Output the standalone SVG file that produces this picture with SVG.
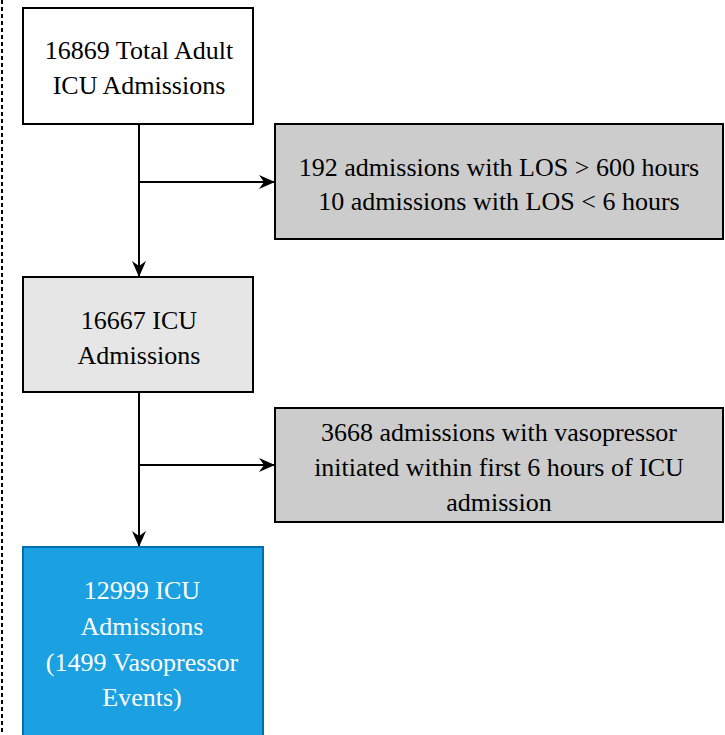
<svg xmlns="http://www.w3.org/2000/svg" width="725" height="735" viewBox="0 0 725 735">
<style>
text{font-family:'Liberation Serif','Times New Roman',serif;font-size:26px;text-anchor:middle;fill:#000}
.w{fill:#fff}
.box{stroke:#000;stroke-width:2}
.conn{stroke:#000;stroke-width:2;fill:none}
</style>
<defs>
<marker id="arr" viewBox="0 0 16 14" refX="15" refY="7" markerWidth="16" markerHeight="14" markerUnits="userSpaceOnUse" orient="auto">
<path d="M0,0 L16,7 L0,14 L5,7 Z" fill="#000"/>
</marker>
</defs>
<rect x="0" y="0" width="725" height="735" fill="#ffffff"/>
<path d="M2,0 V735" stroke="#000" stroke-width="2" stroke-dasharray="4,3" fill="none"/>
<g id="connectors">
<path class="conn" d="M139,124 V276" marker-end="url(#arr)"/>
<path class="conn" d="M139,182 H274" marker-end="url(#arr)"/>
<path class="conn" d="M139,392 V546" marker-end="url(#arr)"/>
<path class="conn" d="M139,465 H274" marker-end="url(#arr)"/>
</g>
<g id="n1">
<rect class="box" x="23" y="8" width="230" height="116" fill="#fff"/>
<text x="139" y="59">16869 Total Adult</text>
<text x="139" y="94">ICU Admissions</text>
</g>
<g id="n2">
<rect class="box" x="275" y="124" width="448" height="115" fill="#ccc"/>
<text x="499" y="176">192 admissions with LOS &gt; 600 hours</text>
<text x="499" y="210">10 admissions with LOS &lt; 6 hours</text>
</g>
<g id="n3">
<rect class="box" x="23" y="277" width="230" height="115" fill="#e6e6e6"/>
<text x="139" y="329">16667 ICU</text>
<text x="139" y="364">Admissions</text>
</g>
<g id="n4">
<rect class="box" x="275" y="408" width="448" height="114" fill="#ccc"/>
<text x="499" y="441">3668 admissions with vasopressor</text>
<text x="499" y="476">initiated within first 6 hours of ICU</text>
<text x="499" y="511">admission</text>
</g>
<g id="n5">
<rect x="23" y="547" width="240" height="200" fill="#1ba1e2" stroke="#006eaf" stroke-width="2"/>
<text class="w" x="142" y="599">12999 ICU</text>
<text class="w" x="142" y="635">Admissions</text>
<text class="w" x="142" y="671">(1499 Vasopressor</text>
<text class="w" x="142" y="706">Events)</text>
</g>
</svg>
